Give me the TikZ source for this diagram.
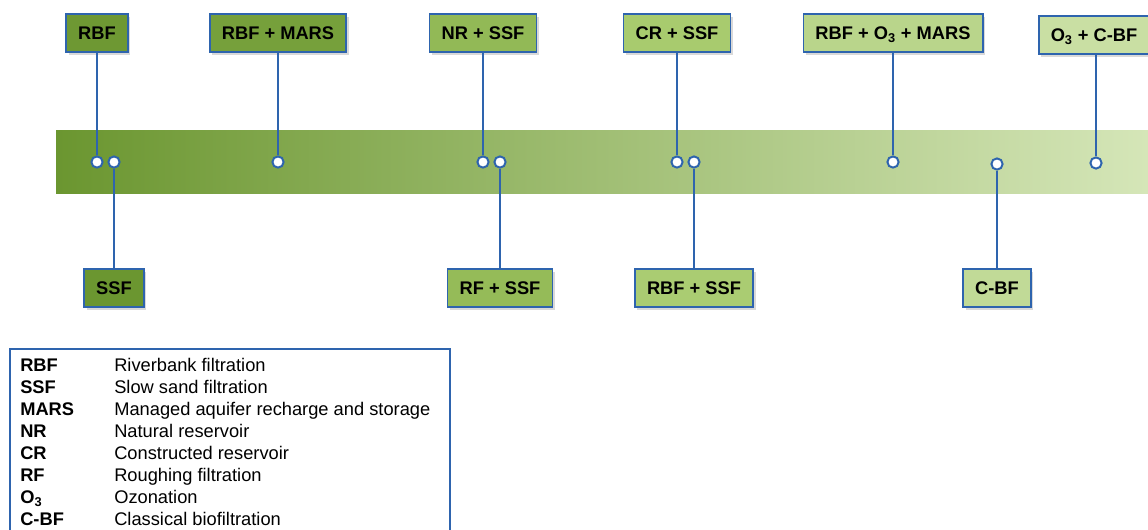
\documentclass[tikz,border=0pt]{standalone}
\usepackage{fontspec}
\setmainfont{Liberation Sans}
\usetikzlibrary{shadows}
\definecolor{bandL}{HTML}{6B9630}
\definecolor{bandM}{HTML}{A3C866}
\definecolor{bandR}{HTML}{D5E6B8}
\definecolor{lineBlue}{HTML}{2E64AE}
\begin{document}
\begin{tikzpicture}[x=0.025cm, y=-0.025cm]
	\tikzstyle{Box} = [rectangle, minimum height=27pt, inner xsep=8.6pt, text height=9.4pt, text depth=0.5pt, text centered, draw=lineBlue, line width=1.2pt, font=\fontsize{13}{15}\selectfont\bfseries, drop shadow={shadow xshift=1.8pt, shadow yshift=-1.8pt, opacity=0.3, fill=black!50}]
	\tikzstyle{Dot} = [circle, minimum size=8pt, inner sep=0pt, draw=lineBlue, line width=1.4pt, fill=white]
	\tikzstyle{Line} = [draw=lineBlue, line width=1.6pt]
	\tikzstyle{Legend} = [anchor=base west, inner sep=0pt, font=\fontsize{13}{15}\selectfont]

	\useasboundingbox (0,0) rectangle (1148,529);
	\clip (0,0) rectangle (1148,529);

	% band
	\shade [left color=bandL, middle color=bandM, right color=bandR] (56,130) rectangle (1148,193);

	% top boxes
	\node (rbf) [Box, fill=bandL!95!bandM] at (97,33) {RBF};
	\node (rbfmars) [Box, fill=bandL!80!bandM] at (278,33) {RBF + MARS};
	\node (nrssf) [Box, fill=bandL!30!bandM] at (483,33) {NR + SSF};
	\node (crssf) [Box, fill=bandM!90!bandR] at (677,33) {CR + SSF};
	\node (rbfozmars) [Box, fill=bandM!55!bandR] at (893,33) {RBF + O\textsubscript{3} + MARS};
	\node (ozcbf) [Box, fill=bandM!25!bandR] at (1094,35) {O\textsubscript{3} + C-BF};

	% bottom boxes
	\node (ssf) [Box, fill=bandL] at (114,288) {SSF};
	\node (rfssf) [Box, fill=bandL!25!bandM] at (500,288) {RF + SSF};
	\node (rbfssf) [Box, fill=bandM!85!bandR] at (694,288) {RBF + SSF};
	\node (cbf) [Box, fill=bandM!40!bandR] at (997,288) {C-BF};

	% dots on the band
	\node (rbfdot) [Dot] at (97,162) {};
	\node (ssfdot) [Dot] at (114,162) {};
	\node (rbfmarsdot) [Dot] at (278,162) {};
	\node (nrssfdot) [Dot] at (483,162) {};
	\node (rfssfdot) [Dot] at (500,162) {};
	\node (crssfdot) [Dot] at (677,162) {};
	\node (rbfssfdot) [Dot] at (694,162) {};
	\node (rbfozmarsdot) [Dot] at (893,162) {};
	\node (cbfdot) [Dot] at (997,164) {};
	\node (ozcbfdot) [Dot] at (1096,163) {};

	\draw [Line] (rbf) -- (rbfdot);
	\draw [Line] (ssf) -- (ssfdot);
	\draw [Line] (rbfmars) -- (rbfmarsdot);
	\draw [Line] (nrssf) -- (nrssfdot);
	\draw [Line] (rfssf) -- (rfssfdot);
	\draw [Line] (crssf) -- (crssfdot);
	\draw [Line] (rbfssf) -- (rbfssfdot);
	\draw [Line] (rbfozmars) -- (rbfozmarsdot);
	\draw [Line] (cbf) -- (cbfdot);
	\draw [Line] (ozcbf.south -| ozcbfdot) -- (ozcbfdot);

	% legend
	\draw [draw=lineBlue, line width=1.2pt] (10,349) rectangle (450,560);
	\foreach \abbr/\desc [count=\i] in {RBF/Riverbank filtration, SSF/Slow sand filtration, MARS/Managed aquifer recharge and storage, NR/Natural reservoir, CR/Constructed reservoir, RF/Roughing filtration, O\textsubscript{3}/Ozonation, C-BF/Classical biofiltration} {
		\node (abbr\i) [Legend, font=\fontsize{13}{15}\selectfont\bfseries] at (20,{349.5+22*\i}) {\abbr};
		\node (desc\i) [Legend] at (114,{349.5+22*\i}) {\desc};
	}
\end{tikzpicture}
\end{document}
